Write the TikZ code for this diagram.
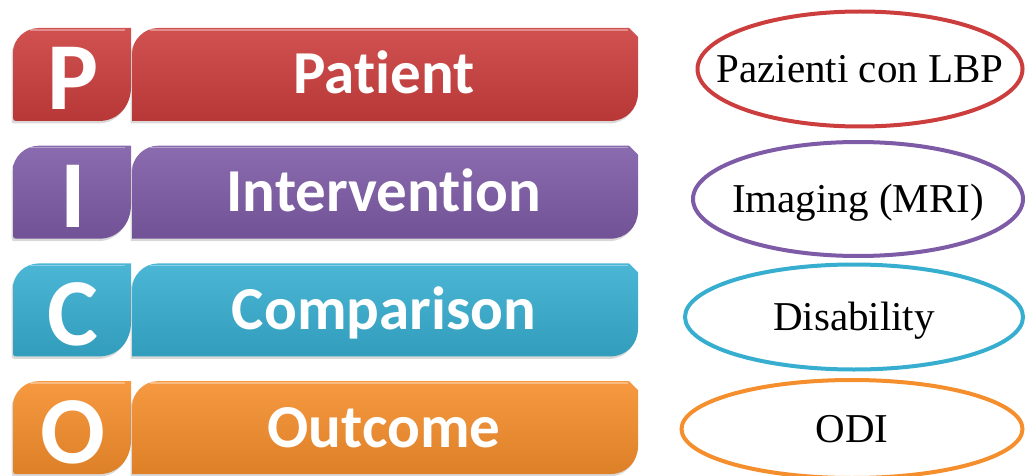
\documentclass[tikz,border=0pt]{standalone}
\usepackage{fontspec}
\setmainfont{Liberation Serif}
\newfontfamily\picofont{Carlito}[Ligatures=NoCommon]
\usetikzlibrary{
    shapes.geometric,
    shadows,
}

\definecolor{picored}{HTML}{CC3E3E}
\definecolor{picopurple}{HTML}{7E5BA6}
\definecolor{picocyan}{HTML}{37AED0}
\definecolor{picoorange}{HTML}{F58E2C}

\begin{document}
\begin{tikzpicture}[
        x=1pt, y=-1pt,
        tile/.style={top color=#1!90!white, bottom color=#1!90!black,
            drop shadow={shadow xshift=-1.5pt, shadow yshift=-2.5pt, opacity=.3}},
        gloss/.style={draw=white, line width=1.5pt, opacity=.35},
        letter/.style={text=white, anchor=base, inner sep=0pt,
            font=\picofont\bfseries\fontsize{96}{96}\selectfont},
        word/.style={text=white, anchor=base, inner sep=0pt,
            font=\picofont\bfseries\fontsize{61}{62}\selectfont},
        ring/.style={ellipse, draw=#1, line width=4pt, inner sep=0pt},
        term/.style={inner sep=0pt, text height=27pt, text depth=0pt,
            font=\fontsize{41}{44}\selectfont},
    ]
    \useasboundingbox (0,0) rectangle (1025,476);

    \foreach \row/\ltr/\word/\col/\cx/\cy/\rx/\ry/\term in {
            1/P/Patient/picored/860/69/325/115/Pazienti con LBP,
            2/I/Intervention/picopurple/858/199/330/114/Imaging (MRI),
            3/C/Comparison/picocyan/854/317/338/105/Disability,
            4/O/Outcome/picoorange/852/429/341/98/ODI}{
        \pgfmathsetmacro\t{28+(\row-1)*117.7}
        \pgfmathsetmacro\b{\t+93}

        % leaf shaped letter tile
        \path[tile=\col] (13,\b-3) -- (13,\t+25)
            .. controls (13,\t+11) and (25,\t) .. (39,\t) -- (131,\t)
            -- (131,\b-34) .. controls (131,\b-15) and (118,\b) .. (99,\b)
            -- (16,\b) .. controls (14,\b) and (13,\b-1) .. cycle;
        \draw[gloss] (30,\t+2) -- (125,\t+2);
        \node[letter] (ltr-\row) at (73,\t+82) {\ltr};

        % bar with the word
        \path[tile=\col] (132,\b) -- (132,\t+26)
            .. controls (132,\t+12) and (144,\t) .. (158,\t) -- (629,\t)
            -- (638,\t+9) -- (638,\b-28)
            .. controls (638,\b-12) and (626,\b) .. (610,\b) -- cycle;
        \draw[gloss] (150,\t+2) -- (628,\t+2);
        \node[word] (bar-\row) at (384,\t+66) {\word};

        % matching term in its ring
        \node[ring=\col, minimum width=\rx, minimum height=\ry]
            (ring-\row) at (\cx,\cy) {};
        \node[term] (term-\row) at (ring-\row) {\term};
    }
\end{tikzpicture}
\end{document}
